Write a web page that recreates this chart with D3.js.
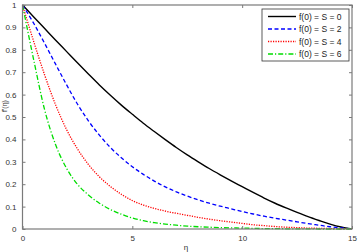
<!DOCTYPE html>
<html>
<head>
<meta charset="utf-8">
<script src="https://cdn.jsdelivr.net/npm/d3@7"></script>
<style>
  body { margin: 0; background: #fff; }
  svg { display: block; font-family: "Liberation Sans", Arial, sans-serif; }
</style>
</head>
<body>
<svg id="chart" width="358" height="252"></svg>
<script>
// eta grid and curves
const eta = [0, 0.5, 1, 1.5, 2, 2.5, 3, 3.5, 4, 4.5, 5, 5.5, 6, 6.5, 7, 7.5,
  8, 8.5, 9, 9.5, 10, 10.5, 11, 11.5, 12, 12.5, 13, 13.5, 14, 14.5, 15];

const s0 = [1.000, 0.948, 0.896, 0.844, 0.793, 0.742, 0.692, 0.643, 0.597, 0.553, 0.512,
  0.472, 0.435, 0.399, 0.364, 0.331, 0.300, 0.270, 0.242, 0.215, 0.189, 0.163, 0.138,
  0.115, 0.094, 0.074, 0.055, 0.038, 0.022, 0.009, 0.000];
const s2 = [1.000, 0.920, 0.830, 0.737, 0.645, 0.558, 0.483, 0.419, 0.364, 0.318, 0.278,
  0.244, 0.214, 0.188, 0.166, 0.147, 0.130, 0.115, 0.102, 0.090, 0.078, 0.067, 0.057,
  0.048, 0.040, 0.032, 0.024, 0.017, 0.010, 0.005, 0.000];
const s4 = [1.000, 0.840, 0.690, 0.556, 0.445, 0.358, 0.288, 0.233, 0.190, 0.155, 0.127,
  0.107, 0.092, 0.080, 0.070, 0.061, 0.052, 0.044, 0.037, 0.031, 0.025, 0.019, 0.015,
  0.011, 0.008, 0.006, 0.004, 0.003, 0.002, 0.001, 0.000];
const s6 = [1.000, 0.760, 0.535, 0.378, 0.272, 0.200, 0.152, 0.115, 0.087, 0.066, 0.049,
  0.037, 0.028, 0.022, 0.017, 0.013, 0.010, 0.008, 0.006, 0.005, 0.004, 0.003, 0.002,
  0.002, 0.001, 0.001, 0.001, 0.000, 0.000, 0.000, 0.000];

const seriesNames = ['f(0) = S = 0', 'f(0) = S = 2', 'f(0) = S = 4', 'f(0) = S = 6'];
const xTicks = [0, 5, 10, 15];
const yTicks = [0, 0.1, 0.2, 0.3, 0.4, 0.5, 0.6, 0.7, 0.8, 0.9, 1];

const styles = [
  { color: '#000000', dash: null, width: 1.4 },
  { color: '#0000ff', dash: '4,2.5', width: 1.3 },
  { color: '#ff0000', dash: '1.2,1.3', width: 1.3 },
  { color: '#00dd00', dash: '5,2,1.2,2', width: 1.3 }
];

const margin = { top: 5, right: 6, bottom: 23, left: 22.5 };
const W = 358, H = 252;
const width = W - margin.left - margin.right;
const height = H - margin.top - margin.bottom;

const svg = d3.select('#chart');
const g = svg.append('g').attr('transform', `translate(${margin.left},${margin.top})`);

const x = d3.scaleLinear().domain([0, 15]).range([0, width]);
const y = d3.scaleLinear().domain([0, 1]).range([height, 0]);

// curves
const data = [s0, s2, s4, s6];
const line = d3.line()
  .x((d, i) => x(eta[i]))
  .y(d => y(d))
  .curve(d3.curveMonotoneX);

data.forEach((vals, k) => {
  g.append('path')
    .datum(vals)
    .attr('fill', 'none')
    .attr('stroke', styles[k].color)
    .attr('stroke-width', styles[k].width)
    .attr('stroke-dasharray', styles[k].dash)
    .attr('d', line);
});

// axes, matlab style box with inward ticks
const tickLen = 3;
const axisColor = '#7a7a7a';
const txtColor = '#333';

const styleAxis = sel => {
  sel.select('.domain').remove();
  sel.selectAll('.tick line').attr('stroke', axisColor);
  sel.selectAll('.tick text').attr('fill', txtColor).style('font-size', '8px');
};

g.append('g')
  .attr('transform', `translate(0,${height})`)
  .call(d3.axisBottom(x).tickValues(xTicks).tickSize(-tickLen).tickPadding(6).tickFormat(d3.format('d')))
  .call(styleAxis);
g.append('g')
  .call(d3.axisTop(x).tickValues(xTicks).tickSize(-tickLen).tickFormat(''))
  .call(styleAxis);
g.append('g')
  .call(d3.axisLeft(y).tickValues(yTicks).tickSize(-tickLen).tickPadding(6).tickFormat(d => d3.format('')(+d.toFixed(1))))
  .call(styleAxis);
g.append('g')
  .attr('transform', `translate(${width},0)`)
  .call(d3.axisRight(y).tickValues(yTicks).tickSize(-tickLen).tickFormat(''))
  .call(styleAxis);

g.append('rect')
  .attr('width', width).attr('height', height)
  .attr('fill', 'none').attr('stroke', axisColor).attr('stroke-width', 1.2);

// axis labels
svg.append('text')
  .attr('x', 186).attr('y', 250)
  .attr('text-anchor', 'middle')
  .attr('fill', txtColor)
  .style('font-size', '8px')
  .text('η');
svg.append('text')
  .attr('transform', 'translate(6.5,106) rotate(-90)')
  .attr('text-anchor', 'middle')
  .attr('fill', txtColor)
  .style('font-size', '7px')
  .text("f'(η)");

// legend
const lg = svg.append('g').attr('transform', 'translate(262,9)');
lg.append('rect')
  .attr('width', 87).attr('height', 52)
  .attr('fill', '#fff').attr('stroke', '#333').attr('stroke-width', 0.8);
seriesNames.forEach((name, k) => {
  const yy = 7.5 + k * 12.5;
  lg.append('line')
    .attr('x1', 6).attr('x2', 34).attr('y1', yy).attr('y2', yy)
    .attr('stroke', styles[k].color)
    .attr('stroke-width', styles[k].width)
    .attr('stroke-dasharray', styles[k].dash);
  lg.append('text')
    .attr('x', 37).attr('y', yy + 3)
    .attr('fill', '#222')
    .style('font-size', '8.5px')
    .text(name);
});
</script>
</body>
</html>
